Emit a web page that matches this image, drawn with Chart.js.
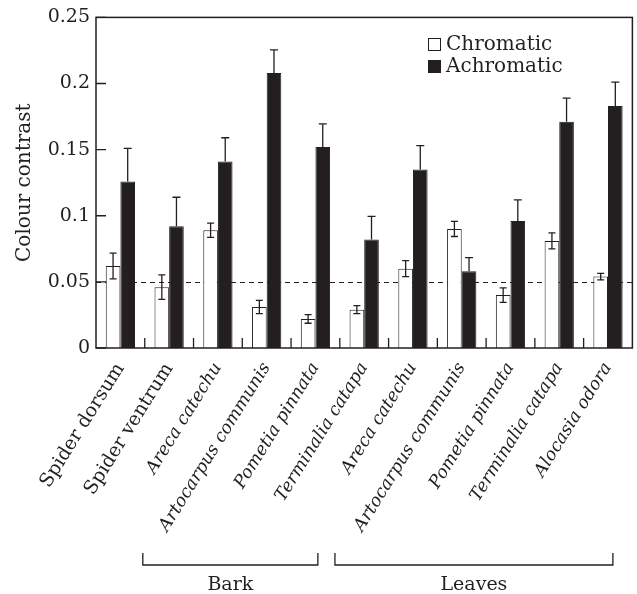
<!DOCTYPE html>
<html>
<head>
<meta charset="utf-8">
<script src="https://cdn.jsdelivr.net/npm/chart.js@4/dist/chart.umd.min.js"></script>
<style>html,body{margin:0;padding:0;background:#fff}</style>
</head>
<body>
<canvas id="myChart" width="637" height="594"></canvas>
<script>
"use strict"

// values
const categories = ['Spider dorsum', 'Spider ventrum', 'Areca catechu', 'Artocarpus communis', 'Pometia pinnata',
    'Terminalia catapa', 'Areca catechu', 'Artocarpus communis', 'Pometia pinnata', 'Terminalia catapa', 'Alocasia odora']
const species_italic = [false, false, true, true, true, true, true, true, true, true, true]
const chromatic = [0.062, 0.046, 0.089, 0.031, 0.022, 0.029, 0.060, 0.090, 0.040, 0.081, 0.054]
const chromatic_err = [0.0097, 0.0093, 0.0054, 0.005, 0.0033, 0.003, 0.006, 0.0057, 0.0055, 0.006, 0.0025]
const achromatic = [0.126, 0.092, 0.141, 0.208, 0.152, 0.082, 0.135, 0.058, 0.096, 0.171, 0.183]
const achromatic_err = [0.025, 0.022, 0.018, 0.0175, 0.0175, 0.0175, 0.018, 0.0103, 0.016, 0.018, 0.018]
const y_ticks = [0, 0.05, 0.1, 0.15, 0.2, 0.25]
const threshold = 0.05
const group_names = ['Bark', 'Leaves']

const INK = '#231f20'
const FONT = "'DejaVu Serif'"
Chart.defaults.font.family = FONT
Chart.defaults.color = INK

// where the brackets sit, in category units
const brackets = [
    {name: group_names[0], from: 0.46, to: 4.05},
    {name: group_names[1], from: 4.4, to: 10.1},
]

const decorPlugin = {
    id: 'decor',
    beforeDatasetsDraw(chart) {
        const {ctx, chartArea: a, scales: {y}} = chart
        // dashed reference line
        ctx.save()
        ctx.strokeStyle = INK
        ctx.lineWidth = 1
        ctx.setLineDash([5, 4])
        const yy = Math.round(y.getPixelForValue(threshold)) + 0.5
        ctx.beginPath()
        ctx.moveTo(a.left, yy)
        ctx.lineTo(a.right, yy)
        ctx.stroke()
        ctx.restore()
    },
    afterDatasetsDraw(chart) {
        const {ctx, chartArea: a, scales: {x, y}} = chart
        ctx.save()
        ctx.strokeStyle = INK
        ctx.lineWidth = 1.3
        // error bars
        const errs = [chromatic_err, achromatic_err]
        chart.data.datasets.forEach((ds, d) => {
            const meta = chart.getDatasetMeta(d)
            meta.data.forEach((bar, i) => {
                const v = ds.data[i]
                const e = errs[d][i]
                const top = y.getPixelForValue(v + e)
                const bot = d == 0 ? y.getPixelForValue(v - e) : y.getPixelForValue(v)
                const cap = d == 0 ? 3.5 : 4
                ctx.beginPath()
                ctx.moveTo(bar.x, top)
                ctx.lineTo(bar.x, bot)
                ctx.moveTo(bar.x - cap, top)
                ctx.lineTo(bar.x + cap, top)
                if (d == 0) {
                    ctx.moveTo(bar.x - cap, bot)
                    ctx.lineTo(bar.x + cap, bot)
                }
                ctx.stroke()
            })
        })
        // frame
        ctx.lineWidth = 1.5
        ctx.strokeRect(a.left, a.top, a.right - a.left, a.bottom - a.top)
        // inward ticks
        ctx.lineWidth = 1.3
        ctx.beginPath()
        for (const v of y_ticks) {
            const py = y.getPixelForValue(v)
            ctx.moveTo(a.left, py)
            ctx.lineTo(a.left + 10, py)
        }
        for (let i = 1; i < categories.length; i++) {
            const px = x.getPixelForValue(i - 0.5)
            ctx.moveTo(px, a.bottom)
            ctx.lineTo(px, a.bottom - 10)
        }
        ctx.stroke()
        ctx.restore()
    },
    afterDraw(chart) {
        const {ctx, scales: {x}} = chart
        ctx.save()
        // legend
        ctx.font = '20px ' + FONT
        ctx.textBaseline = 'alphabetic'
        ctx.textAlign = 'left'
        chart.data.datasets.forEach((ds, d) => {
            const ly = 38 + d * 22
            ctx.fillStyle = ds.backgroundColor
            ctx.fillRect(428, ly, 13, 13)
            ctx.strokeStyle = INK
            ctx.lineWidth = 1
            ctx.strokeRect(428.5, ly + 0.5, 12, 12)
            ctx.fillStyle = INK
            ctx.fillText(ds.label, 446, ly + 12)
        })
        // group brackets
        ctx.strokeStyle = INK
        ctx.lineWidth = 1.3
        ctx.font = '19px ' + FONT
        ctx.textAlign = 'center'
        for (const b of brackets) {
            const x0 = x.getPixelForValue(b.from)
            const x1 = x.getPixelForValue(b.to)
            ctx.beginPath()
            ctx.moveTo(x0, 553)
            ctx.lineTo(x0, 565)
            ctx.lineTo(x1, 565)
            ctx.lineTo(x1, 553)
            ctx.stroke()
            ctx.fillText(b.name, (x0 + x1) / 2, 590)
        }
        ctx.restore()
    }
}

const ctx = document.getElementById('myChart')
const contrast_chart = new Chart(ctx, {
    type: 'bar',
    data: {
        labels: categories,
        datasets: [
            {
                label: 'Chromatic',
                data: chromatic,
                backgroundColor: '#ffffff',
                borderColor: INK,
                borderWidth: 1,
            },
            {
                label: 'Achromatic',
                data: achromatic,
                backgroundColor: INK,
                borderColor: INK,
                borderWidth: 1,
            },
        ]
    },
    options: {
        responsive: false,
        animation: false,
        devicePixelRatio: 1,
        categoryPercentage: 0.6,
        barPercentage: 1.0,
        layout: {padding: {top: 15, right: 4, left: 0, bottom: 0}},
        plugins: {legend: {display: false}, tooltip: {enabled: false}},
        scales: {
            x: {
                grid: {display: false, drawTicks: false},
                border: {display: false},
                ticks: {
                    autoSkip: false,
                    maxRotation: 58,
                    minRotation: 58,
                    padding: 11,
                    color: INK,
                    font: c => ({family: FONT, size: species_italic[c.index] ? 17.5 : 19, style: species_italic[c.index] ? 'italic' : 'normal'}),
                },
                afterFit(scale) { scale.height = 246 },
            },
            y: {
                min: 0,
                max: 0.25,
                grid: {display: false, drawTicks: false},
                border: {display: false},
                afterBuildTicks(scale) { scale.ticks = y_ticks.map(v => ({value: v})) },
                ticks: {
                    padding: 6,
                    color: INK,
                    font: {family: FONT, size: 19},
                    callback: v => String(v),
                },
                title: {
                    display: true,
                    text: 'Colour contrast',
                    color: INK,
                    font: {family: FONT, size: 20},
                    padding: {top: 13, bottom: 0},
                },
                afterFit(scale) { scale.width = 96 },
            }
        }
    },
    plugins: [decorPlugin]
})
</script>
</body>
</html>
